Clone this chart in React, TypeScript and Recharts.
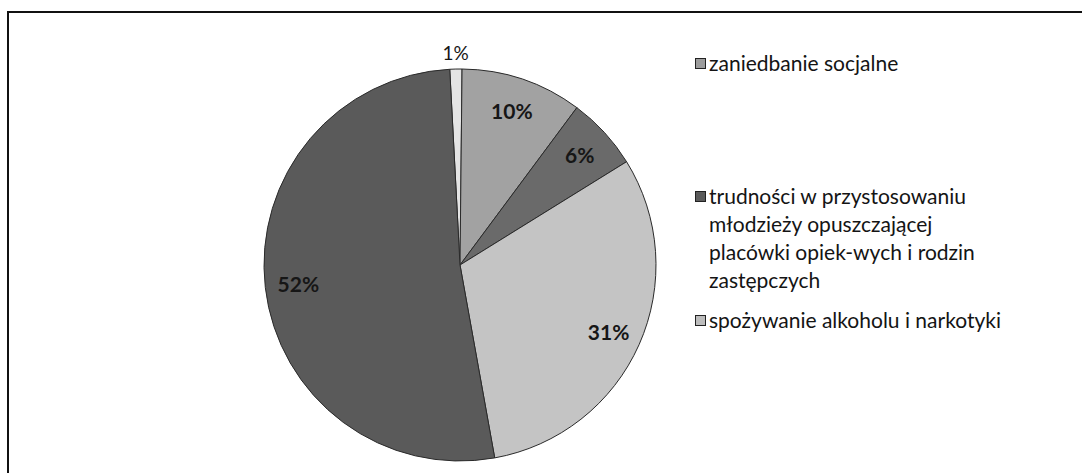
import React from 'react';
import { PieChart, Pie, Cell, Legend } from 'recharts';

// values, clockwise from 12 o'clock
const values = [1, 10, 6, 31, 52];
const sliceColors = ['#e4e4e4', '#a2a2a2', '#6a6a6a', '#c4c4c4', '#5a5a5a'];

const legendLabels = [
  ['zaniedbanie socjalne'],
  ['trudności w przystosowaniu', 'młodzieży opuszczającej', 'placówki opiek-wych i rodzin', 'zastępczych'],
  ['spożywanie alkoholu i narkotyki'],
];
const legendColors = ['#9c9c9c', '#5a5a5a', '#bdbdbd'];

const data = values.map((v, i) => ({ name: `s${i}`, value: v }));

const RADIAN = Math.PI / 180;
const FONT = 'Lato, "Open Sans", sans-serif';

const renderLabel = (props: any) => {
  const { cx, cy, midAngle, outerRadius, value, percent } = props;
  const outside = percent < 0.03;
  const r = outside ? outerRadius + 17 : outerRadius * 0.83;
  const x = cx + r * Math.cos(-midAngle * RADIAN);
  const y = cy + r * Math.sin(-midAngle * RADIAN);
  return (
    <text
      x={x}
      y={y}
      textAnchor="middle"
      dominantBaseline="central"
      fill="#161616"
      fontFamily={FONT}
      fontSize={outside ? 19 : 21}
      fontWeight={outside ? 400 : 700}
    >
      {`${value}%`}
    </text>
  );
};

// top of each legend entry (first line box), px
const entryTops = [49, 182, 306];

const LegendBox = () => (
  <div style={{ position: 'relative', width: 385, height: 400, fontFamily: FONT, fontSize: 21, color: '#141414' }}>
    {legendLabels.map((lines, i) => (
      <div key={i} style={{ position: 'absolute', left: 0, top: entryTops[i], lineHeight: '28px' }}>
        <span
          style={{
            position: 'absolute',
            left: 0,
            top: 9,
            width: 9,
            height: 9,
            background: legendColors[i],
            border: '1px solid #222',
          }}
        />
        {lines.map((line, j) => (
          <div key={j} style={{ paddingLeft: 14, whiteSpace: 'nowrap' }}>{line}</div>
        ))}
      </div>
    ))}
  </div>
);

export default function App() {
  return (
    <div style={{ position: 'relative', width: 1082, height: 473, background: '#fff' }}>
      <style>{`body{margin:0}`}</style>
      <div style={{ position: 'absolute', left: 7, top: 11, right: 0, bottom: 0, borderTop: '2px solid #111', borderLeft: '2px solid #111' }} />
      <PieChart width={1082} height={473} style={{ position: 'absolute', left: 0, top: 0 }}>
        <Pie
          data={data}
          dataKey="value"
          cx={455}
          cy={260}
          outerRadius={196}
          startAngle={93}
          endAngle={-267}
          stroke="#2a2a2a"
          strokeWidth={1}
          label={renderLabel}
          labelLine={false}
          isAnimationActive={false}
        >
          {data.map((d, i) => (
            <Cell key={d.name} fill={sliceColors[i]} />
          ))}
        </Pie>
        <Legend
          content={() => <LegendBox />}
          wrapperStyle={{ position: 'absolute', left: 695, top: 0, width: 385 }}
        />
      </PieChart>
    </div>
  );
}
